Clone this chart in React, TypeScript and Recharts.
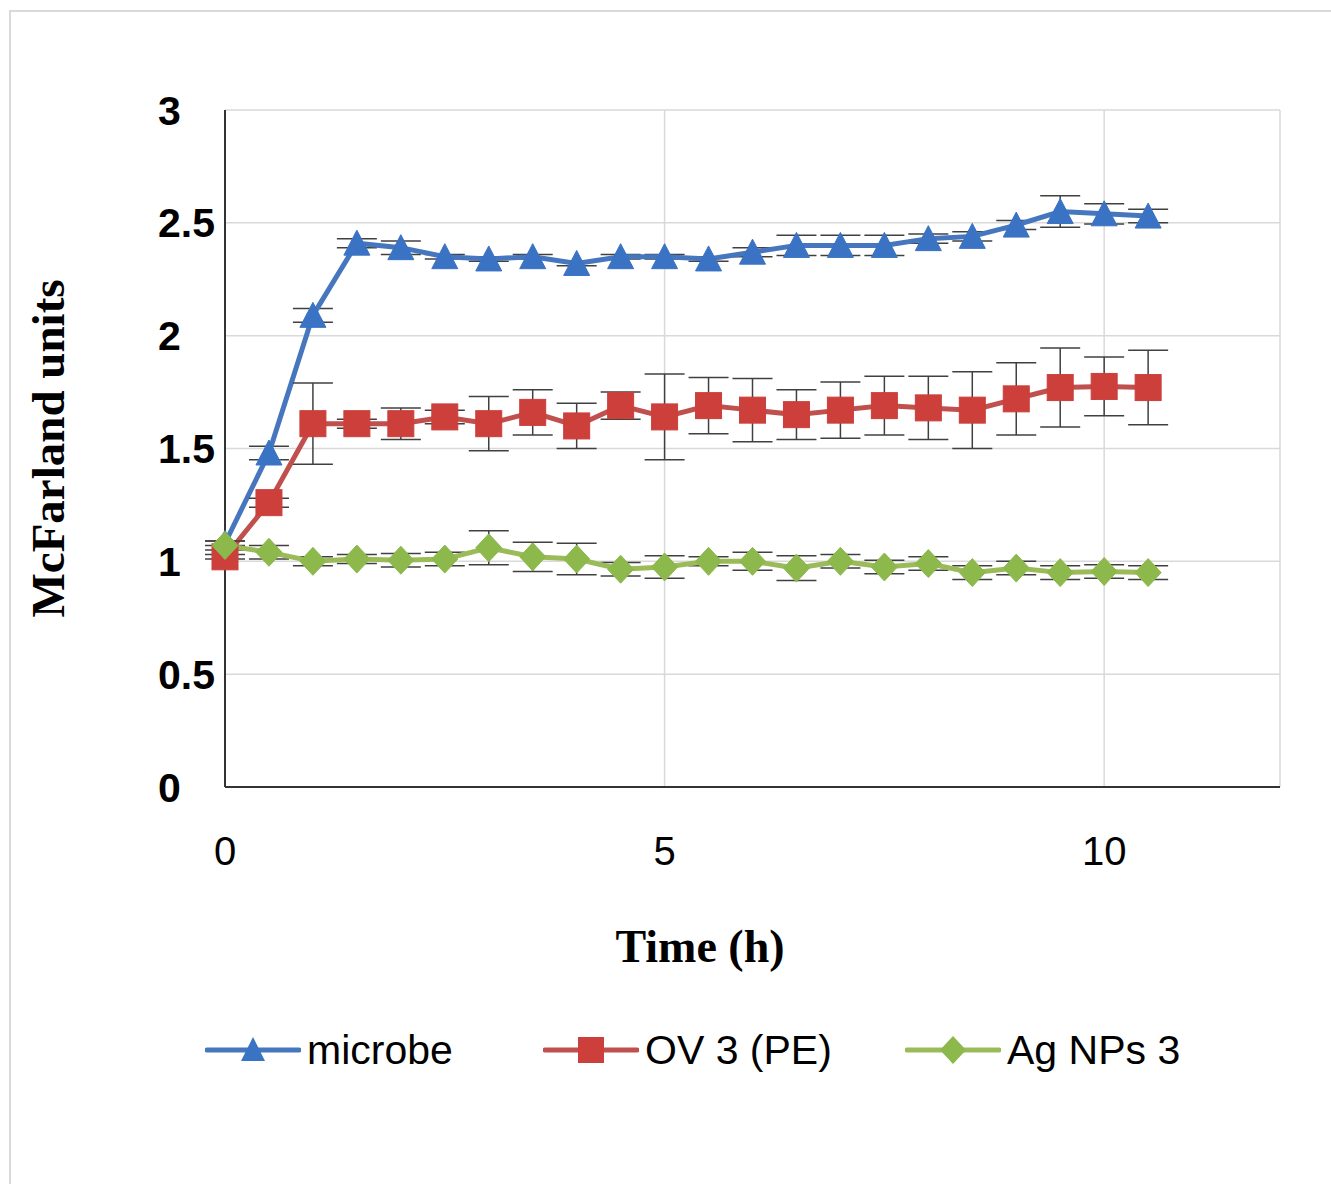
import React from 'react';
import { LineChart, Line, XAxis, YAxis, CartesianGrid, ErrorBar } from 'recharts';

const time = [0, 0.5, 1, 1.5, 2, 2.5, 3, 3.5, 4, 4.5, 5, 5.5, 6, 6.5, 7, 7.5, 8, 8.5, 9, 9.5, 10, 10.5];
const microbe = [1.08, 1.48, 2.09, 2.41, 2.39, 2.35, 2.34, 2.35, 2.32, 2.35, 2.35, 2.34, 2.37, 2.4, 2.4, 2.4, 2.43, 2.44, 2.49, 2.55, 2.54, 2.53];
const microbeErr = [0.01, 0.03, 0.03, 0.02, 0.03, 0.01, 0.01, 0.01, 0.01, 0.01, 0.01, 0.01, 0.02, 0.045, 0.045, 0.045, 0.02, 0.02, 0.02, 0.07, 0.045, 0.03];
const ov = [1.02, 1.26, 1.61, 1.61, 1.61, 1.64, 1.61, 1.66, 1.6, 1.69, 1.64, 1.69, 1.67, 1.65, 1.67, 1.69, 1.68, 1.67, 1.72, 1.77, 1.775, 1.77];
const ovErr = [0.01, 0.02, 0.18, 0.02, 0.07, 0.03, 0.12, 0.1, 0.1, 0.06, 0.19, 0.125, 0.14, 0.11, 0.125, 0.13, 0.14, 0.17, 0.16, 0.175, 0.13, 0.165];
const ag = [1.07, 1.04, 1.0, 1.01, 1.005, 1.01, 1.06, 1.02, 1.01, 0.965, 0.975, 1.0, 1.0, 0.97, 1.0, 0.975, 0.99, 0.95, 0.97, 0.95, 0.955, 0.95];
const agErr = [0.02, 0.03, 0.02, 0.02, 0.03, 0.03, 0.075, 0.065, 0.07, 0.03, 0.05, 0.02, 0.04, 0.055, 0.03, 0.03, 0.03, 0.03, 0.03, 0.03, 0.03, 0.03];

const xTicks = [0, 5, 10];
const yTicks = [0, 0.5, 1, 1.5, 2, 2.5, 3];
const seriesNames = ['microbe', 'OV 3 (PE)', 'Ag NPs 3'];

const data = time.map((t, i) => ({
  t,
  microbe: microbe[i],
  microbeErr: microbeErr[i],
  ov: ov[i],
  ovErr: ovErr[i],
  ag: ag[i],
  agErr: agErr[i],
}));

const BLUE_LINE = '#4677BE';
const BLUE_MARK = '#3A72C4';
const RED_LINE = '#C0504D';
const RED_MARK = '#CC3F3B';
const GREEN_LINE = '#9BBB59';
const GREEN_MARK = '#8CB84C';

const Triangle = (props: any) => {
  const { cx, cy } = props;
  if (cx == null || cy == null) return null;
  return <polygon points={`${cx},${cy - 13} ${cx - 13},${cy + 12} ${cx + 13},${cy + 12}`} fill={BLUE_MARK} stroke={BLUE_MARK} strokeWidth={1} />;
};
const Square = (props: any) => {
  const { cx, cy } = props;
  if (cx == null || cy == null) return null;
  return <rect x={cx - 13} y={cy - 13} width={26} height={26} fill={RED_MARK} stroke={RED_MARK} strokeWidth={1} />;
};
const Diamond = (props: any) => {
  const { cx, cy } = props;
  if (cx == null || cy == null) return null;
  return <polygon points={`${cx},${cy - 14} ${cx + 13},${cy} ${cx},${cy + 14} ${cx - 13},${cy}`} fill={GREEN_MARK} stroke={GREEN_MARK} strokeWidth={1} />;
};

const YTick = (props: any) => {
  const { x, y, payload } = props;
  return (
    <text x={x - 54} y={y} dy="0.355em" textAnchor="start" fill="#000" fontSize={41} fontWeight="bold" fontFamily="Liberation Sans, Arial, sans-serif">
      {payload.value}
    </text>
  );
};

const legendIcon = (idx: number) => {
  const colors = [BLUE_LINE, RED_LINE, GREEN_LINE];
  const c = colors[idx];
  return (
    <svg width={96} height={36} style={{ display: 'block' }}>
      <line x1={2} y1={18} x2={94} y2={18} stroke={c} strokeWidth={5} strokeLinecap="round" />
      {idx === 0 && <polygon points="48,5 36,29 60,29" fill={BLUE_MARK} />}
      {idx === 1 && <rect x={35} y={5} width={26} height={26} fill={RED_MARK} />}
      {idx === 2 && <polygon points="48,4 61,18 48,32 35,18" fill={GREEN_MARK} />}
    </svg>
  );
};

const legendLefts = [205, 543, 905];

export default function App() {
  return (
    <div style={{ position: 'absolute', left: 0, top: 0, width: 1331, height: 1184, background: '#fff', overflow: 'hidden' }}>
      <div style={{ position: 'absolute', left: 9, top: 10, width: 1400, height: 1300, borderTop: '2px solid #D9D9D9', borderLeft: '2px solid #D9D9D9' }} />
      <div style={{ position: 'absolute', left: 0, top: 0 }}>
        <LineChart width={1331} height={1184} data={data} margin={{ top: 110, right: 51, bottom: 337, left: 0 }}>
          <CartesianGrid stroke="#D9D9D9" strokeWidth={1.5} vertical={true} horizontal={true} />
          <XAxis
            dataKey="t"
            type="number"
            domain={[0, 12]}
            ticks={xTicks}
            height={60}
            axisLine={{ stroke: '#333', strokeWidth: 2 }}
            tickLine={false}
            tickSize={0}
            tickMargin={50}
            tick={{ fill: '#000', fontSize: 40, fontFamily: 'Liberation Sans, Arial, sans-serif' }}
            label={{
              content: (p: any) => {
                const vb = p.viewBox || { x: 225, y: 787 };
                return (
                  <text x={vb.x + 475} y={vb.y + 175} textAnchor="middle" fontFamily="Liberation Serif, Times New Roman, serif" fontWeight="bold" fontSize={46} fill="#000">
                    Time (h)
                  </text>
                );
              },
            }}
          />
          <YAxis
            type="number"
            domain={[0, 3]}
            ticks={yTicks}
            width={225}
            axisLine={{ stroke: '#333', strokeWidth: 2 }}
            tickLine={false}
            tickSize={0}
            tickMargin={13}
            tick={<YTick />}
            label={{
              content: (p: any) => {
                const vb = p.viewBox || { x: 0, y: 110, height: 677 };
                const cx = vb.x + 48;
                const cy = vb.y + vb.height / 2;
                return (
                  <text x={cx} y={cy} transform={`rotate(-90 ${cx} ${cy})`} textAnchor="middle" dominantBaseline="central" fontFamily="Liberation Serif, Times New Roman, serif" fontWeight="bold" fontSize={47} fill="#000">
                    McFarland units
                  </text>
                );
              },
            }}
          />
          <Line dataKey="microbe" name={seriesNames[0]} stroke={BLUE_LINE} strokeWidth={5} dot={<Triangle />} activeDot={false} isAnimationActive={false}>
            <ErrorBar dataKey="microbeErr" direction="y" width={20} stroke="#404040" strokeWidth={1.5} />
          </Line>
          <Line dataKey="ov" name={seriesNames[1]} stroke={RED_LINE} strokeWidth={5} dot={<Square />} activeDot={false} isAnimationActive={false}>
            <ErrorBar dataKey="ovErr" direction="y" width={20} stroke="#404040" strokeWidth={1.5} />
          </Line>
          <Line dataKey="ag" name={seriesNames[2]} stroke={GREEN_LINE} strokeWidth={5} dot={<Diamond />} activeDot={false} isAnimationActive={false}>
            <ErrorBar dataKey="agErr" direction="y" width={20} stroke="#404040" strokeWidth={1.5} />
          </Line>
        </LineChart>
      </div>
      {seriesNames.map((name, i) => (
        <div key={name} style={{ position: 'absolute', left: legendLefts[i], top: 1030, height: 40, display: 'flex', alignItems: 'center' }}>
          {legendIcon(i)}
          <span style={{ marginLeft: 6, fontSize: 41, fontFamily: 'Liberation Sans, Arial, sans-serif', color: '#000', lineHeight: '40px' }}>{name}</span>
        </div>
      ))}
    </div>
  );
}
